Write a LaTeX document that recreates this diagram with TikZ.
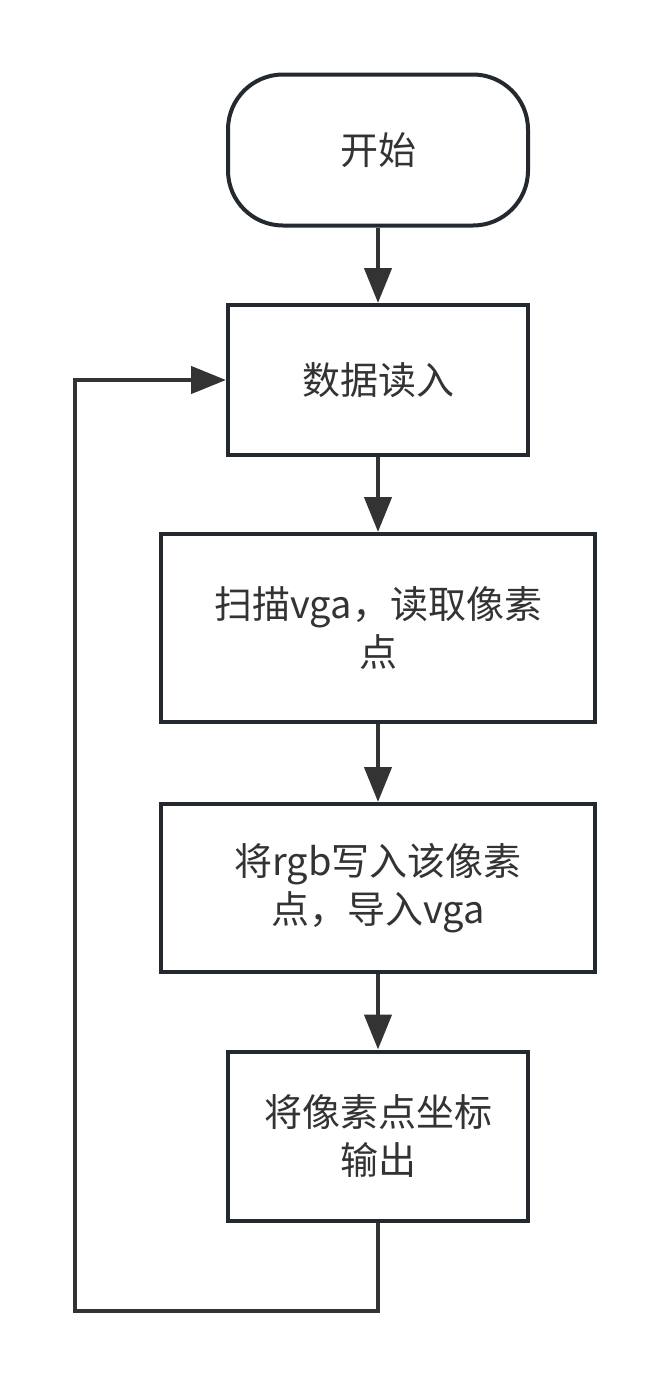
\documentclass[tikz,border=0pt]{standalone}
\usepackage{fontspec}
\setmainfont{Noto Sans CJK SC}
\usetikzlibrary{arrows.meta}
\definecolor{edge}{HTML}{23292F}
\definecolor{ink}{HTML}{333333}
\tikzset{
  x=1pt, y=1pt,
  box/.style={draw=edge, line width=4pt, fill=white, text=ink, inner sep=0pt,
    align=center, font=\fontsize{38}{48}\selectfont},
  term/.style={box, rounded corners=55pt},
  flow/.style={draw=ink, line width=4.5pt,
    -{Triangle[length=35pt,width=27pt]}},
}
\begin{document}
\begin{tikzpicture}
\useasboundingbox (0,0) rectangle (669,-1387);
\fill[white] (0,0) rectangle (669,-1387);

\node[term, minimum width=300pt, minimum height=151pt] (start) at (378,-150) {开始};
\node[box, minimum width=300pt, minimum height=150pt] (read) at (378,-380) {数据读入};
\node[box, minimum width=434pt, minimum height=188pt] (scan) at (378,-628) {扫描vga，读取像素\\点};
\node[box, minimum width=434pt, minimum height=168pt] (write) at (378,-888) {将rgb写入该像素\\点，导入vga};
\node[box, minimum width=300pt, minimum height=169pt] (out) at (378,-1136) {将像素点坐标\\输出};

\coordinate (loop) at (75,-1311);

\draw[flow] (start) -- (read);
\draw[flow] (read) -- (scan);
\draw[flow] (scan) -- (write);
\draw[flow] (write) -- (out);
\draw[flow] (out.south) |- (loop) |- (read.west);
\end{tikzpicture}
\end{document}
